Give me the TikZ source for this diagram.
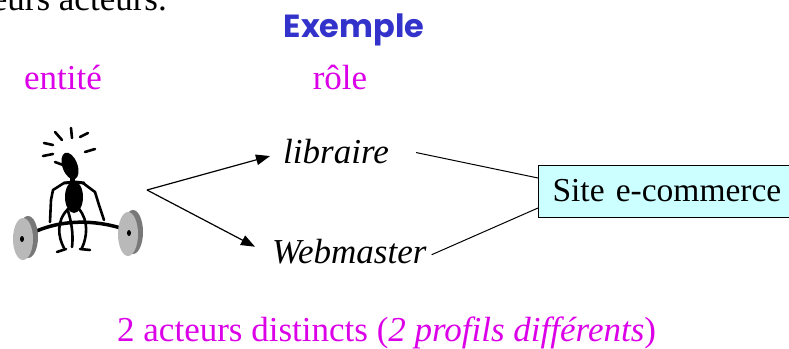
\documentclass[tikz,border=0pt]{standalone}
\usepackage{fontspec}
\setmainfont{Liberation Serif}
\newfontfamily\headfont{Poppins}
\usetikzlibrary{arrows.meta}
\definecolor{rolemagenta}{RGB}{220,0,232}
\definecolor{headblue}{RGB}{51,51,204}
\definecolor{sitecyan}{RGB}{204,255,255}
\definecolor{plategray}{RGB}{185,185,185}
\definecolor{platedark}{RGB}{120,120,120}
\tikzset{
  txt/.style={inner sep=0pt, font=\fontsize{35}{40}\selectfont},
  lbl/.style={txt, text=rolemagenta},
  rolebox/.style={txt, font=\fontsize{35}{40}\selectfont\itshape},
  sitebox/.style={inner sep=0pt, font=\fontsize{33.5}{40}\selectfont,
    draw=black, line width=1pt, fill=sitecyan,
    inner xsep=14pt, text width=245pt, align=left, minimum height=52pt},
  arrowline/.style={line width=1.2pt, -{Triangle[length=14pt,width=10.5pt]}},
  link/.style={line width=1pt},
  ink/.style={line width=2.6pt, line cap=round, line join=round},
}
\begin{document}
\begin{tikzpicture}[x=1pt, y=-1pt]
\useasboundingbox (0,0) rectangle (789,348);

% heading text and column labels
\node[txt, anchor=base east] (prev) at (167,10) {eurs acteurs.};
\node[inner sep=0pt, anchor=base, text=headblue,
      font=\headfont\bfseries\fontsize{32}{38}\selectfont] (ex) at (354,37) {Exemple};
\node[lbl, anchor=base] (ent) at (63,89) {entité};
\node[lbl, anchor=base] (role) at (340,89) {rôle};

% weightlifter figure
\begin{scope}
  % rays around the head
  \draw[ink] (44,143) -- (53,145);
  \draw[ink] (55,132) -- (62,140);
  \draw[ink] (71,128) -- (72,138);
  \draw[ink] (80,137) -- (88,133);
  \draw[ink] (85,152) -- (95,149);
  \draw[ink] (43,156) -- (53,154);
  % head and nose
  \fill (70,166) ellipse [x radius=7.5, y radius=14, rotate=20];
  \draw[ink] (55,162) -- (63,165);
  % torso
  \fill (70,177) rectangle (75,185);
  \fill (74,197) ellipse [x radius=9, y radius=16];
  % arms
  \draw[ink, line width=3pt] (64,183) -- (75,182) -- (84,183);
  \draw[ink] (64,183) -- (53,190) -- (51,200) -- (50,222);
  \draw[ink] (83,183) -- (95,192) -- (99,205) -- (104,220);
  % legs and feet
  \draw[ink] (68,209) .. controls (56,221) and (58,237) .. (64,248);
  \draw[ink] (79,209) .. controls (89,221) and (87,237) .. (82,248);
  \draw[ink] (68,211) .. controls (73,227) and (73,239) .. (72,247);
  \draw[ink] (57,252) -- (66,249);
  \draw[ink] (80,249) -- (90,250);
  % bar
  \draw[ink, line width=3.5pt] (30,234) .. controls (60,219) and (95,219) .. (127,230);
  % plates
  \fill[platedark] (28,237) ellipse [x radius=10, y radius=21];
  \fill[plategray] (23,239) ellipse [x radius=10, y radius=21];
  \fill (22,239) ellipse [x radius=2, y radius=3];
  \fill[platedark] (133,232) ellipse [x radius=10, y radius=22];
  \fill[plategray] (128,234) ellipse [x radius=10, y radius=22];
  \fill (129,233) ellipse [x radius=2, y radius=3];
\end{scope}
\coordinate (actor) at (147,190);

% roles and system
\node[rolebox, anchor=base west] (lib) at (283,163) {libraire};
\node[rolebox, anchor=base west] (web) at (272,263) {Webmaster};
\node[sitebox, anchor=west] (site) at (538,191) {Site e-commerce};

\draw[arrowline] (actor) -- ([xshift=-13pt, yshift=-5pt]lib.west);
\draw[arrowline] (actor) -- ([xshift=-17pt, yshift=4.4pt]web.west);
\draw[link] ([xshift=27pt, yshift=-1.5pt]lib.east) -- ([yshift=13pt]site.west);
\draw[link] ([xshift=5pt, yshift=-3.6pt]web.east) -- ([yshift=-17pt]site.west);

% conclusion
\node[lbl, anchor=base west] (concl) at (117,341)
  {2 acteurs distincts (\textit{2 profils différents})};
\end{tikzpicture}
\end{document}
